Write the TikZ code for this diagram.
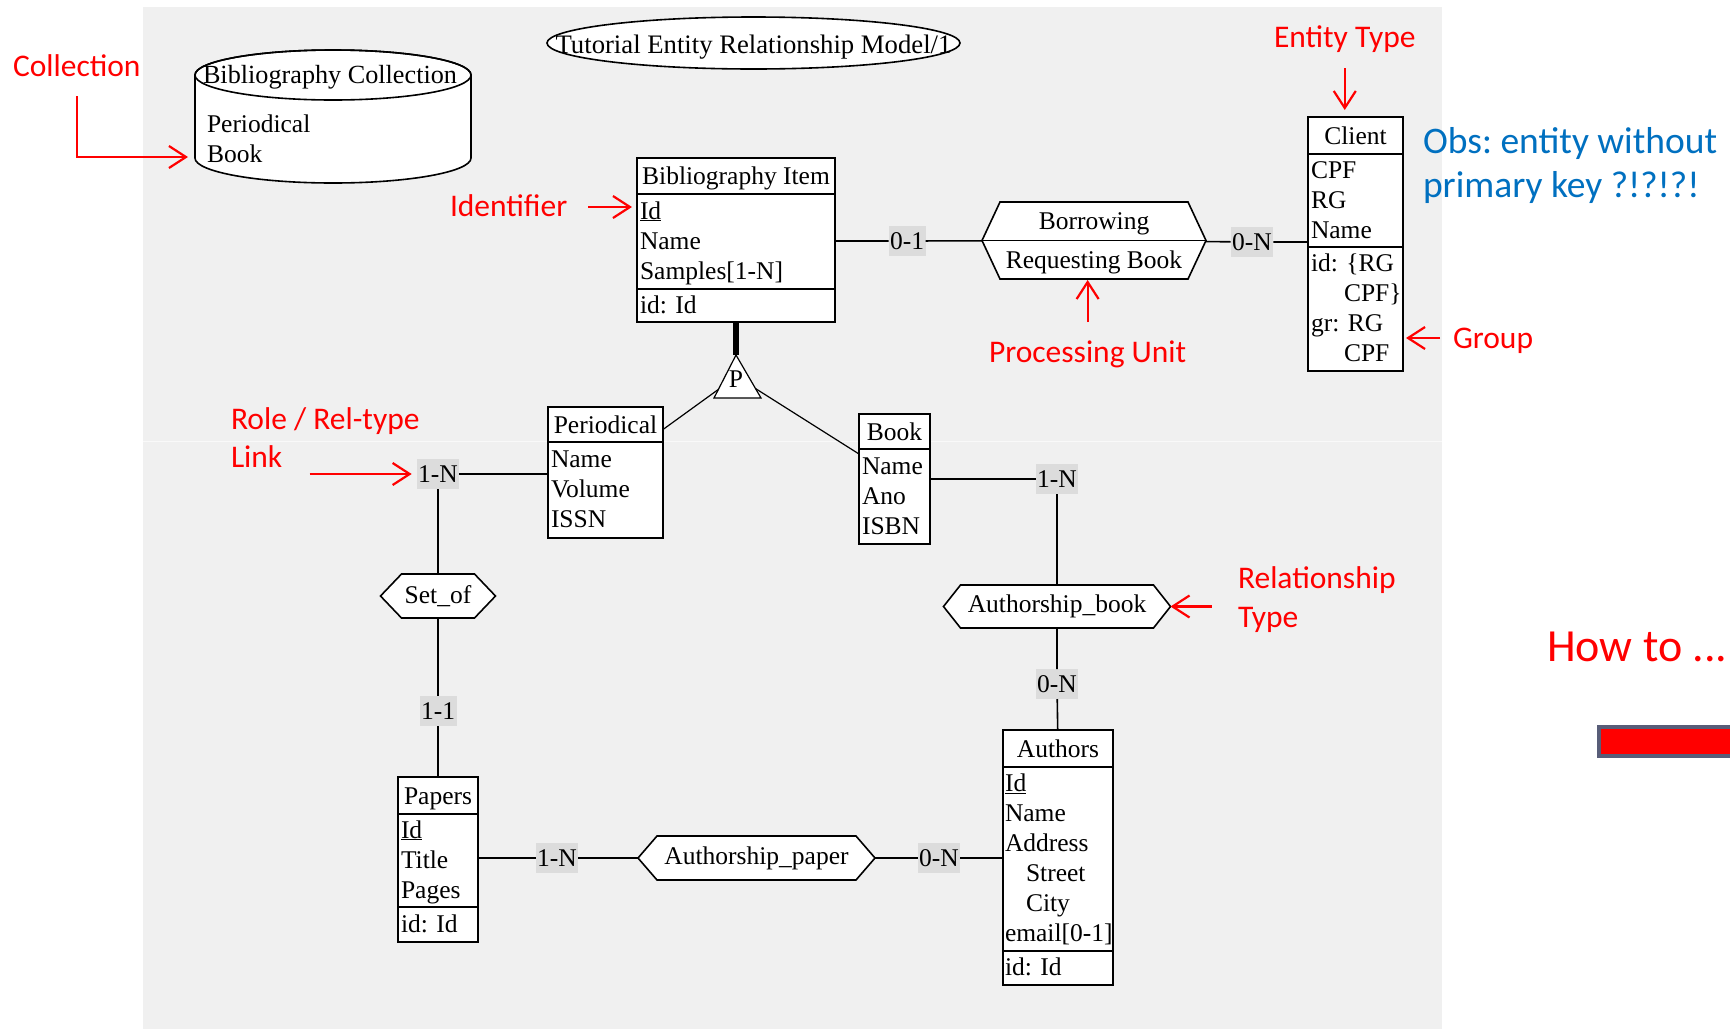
\documentclass[tikz,border=0pt]{standalone}
\usepackage{fontspec}
\setmainfont{Liberation Serif}
\newfontfamily\notefont{Carlito}
\usetikzlibrary{arrows.meta,calc}
\definecolor{bggray}{RGB}{240,240,240}
\definecolor{lblgray}{RGB}{220,220,220}
\definecolor{noteblue}{RGB}{0,112,192}
\definecolor{notered}{RGB}{255,0,0}
\definecolor{barframe}{RGB}{88,93,120}
\newcommand\erfont{\fontsize{25.5}{30}\selectfont}
% invisible line strut: 22.5pt above and 7.5pt below the baseline
\newcommand\linestrut{\rule[-7.5pt]{0pt}{30pt}}
\pgfdeclarelayer{back}
\pgfdeclarelayer{shapes}
\pgfsetlayers{back,shapes,main}
% hexagonal outline around a (rectangular, undrawn) relationship node
\newcommand\hexframe[2]{%
  \begin{pgfonlayer}{shapes}
    \draw[line width=1.6pt, fill=white, line join=miter]
      ($(#1.north west)+(#2,0)$) -- ($(#1.north east)+(-#2,0)$) -- (#1.east)
      -- ($(#1.south east)+(-#2,0)$) -- ($(#1.south west)+(#2,0)$) -- (#1.west) -- cycle;
  \end{pgfonlayer}}
\begin{document}
\frenchspacing
\begin{tikzpicture}[x=1pt, y=-1pt,
  every node/.style={inner sep=0pt, outer sep=0pt, font=\erfont},
  link/.style={line width=1.6pt},
  thinlink/.style={line width=1.2pt},
  comp/.style={draw, fill=white, line width=1.6pt, anchor=north west, inner ysep=0pt},
  ehead/.style={comp, align=center, text height=17pt, text depth=0pt},
  eattr/.style={comp, inner xsep=3pt, align=left,
    execute at begin node=\linestrut, execute at end node=\linestrut},
  card/.style={fill=lblgray, inner xsep=1.5pt, minimum height=30pt},
  note/.style={text=notered, font=\notefont\fontsize{31.5}{38}\selectfont},
  obs/.style={text=noteblue, font=\notefont\fontsize{37.5}{44}\selectfont},
  howto/.style={text=notered, font=\notefont\fontsize{46}{55}\selectfont},
  redarrow/.style={draw=notered, line width=2.2pt, -{Straight Barb[length=17pt, width=22pt]}}]

\useasboundingbox (0,0) rectangle (1730,1029);

\begin{pgfonlayer}{back}
  \fill[white] (0,0) rectangle (1730,1029);
  \fill[bggray] (143,7) rectangle (1442,1029);
  \draw[white, line width=1pt, opacity=.6] (143,441) -- (1442,441);
\end{pgfonlayer}

% schema title
\draw[link, fill=white] (753.5,43) ellipse[x radius=206.5, y radius=26];
\node[anchor=base, font=\fontsize{26.7}{30}\selectfont] (title) at (753.5,53) {Tutorial Entity Relationship Model/1};

% collection (cylinder)
\filldraw[link, fill=white] (195,75) -- (195,158)
  arc[start angle=180, end angle=0, x radius=138, y radius=25] -- (471,75)
  arc[start angle=0, end angle=-180, x radius=138, y radius=25] -- cycle;
\draw[link] (333,75) ellipse[x radius=138, y radius=25];
\node[anchor=base, font=\fontsize{26.2}{30}\selectfont] (collT) at (330,83) {Bibliography Collection};
\node[anchor=base west] (collP) at (207,132) {Periodical};
\node[anchor=base west] (collB) at (207,162) {Book};
\coordinate (cylW) at (195,157);

% entity types
\node[ehead, minimum width=198pt, minimum height=36pt] (bibH) at (637,158) {Bibliography Item};
\node[eattr, text width=192pt, minimum height=95pt] (bibA) at (bibH.south west) {\underline{Id}\\Name\\Samples[1-N]};
\node[eattr, text width=192pt, minimum height=33pt] (bibI) at (bibA.south west) {id: Id};

\node[ehead, minimum width=115pt, minimum height=35pt] (perH) at (548,407) {Periodical};
\node[eattr, text width=109pt, minimum height=96pt] (perA) at (perH.south west) {Name\\Volume\\ISSN};

\node[ehead, minimum width=71pt, minimum height=35pt] (bookH) at (859,414) {Book};
\node[eattr, text width=65pt, minimum height=95pt] (bookA) at (bookH.south west) {Name\\Ano\\ISBN};

\node[ehead, minimum width=95pt, minimum height=37pt] (clientH) at (1308,117) {Client};
\node[eattr, text width=89pt, minimum height=93pt] (clientA) at (clientH.south west) {CPF\\RG\\Name};
\node[eattr, text width=89pt, minimum height=124pt] (clientI) at (clientA.south west) {id: \{RG\\\hspace*{33pt}CPF\}\\gr: RG\\\hspace*{33pt}CPF};

\node[ehead, minimum width=80pt, minimum height=37pt] (papH) at (398,777) {Papers};
\node[eattr, text width=74pt, minimum height=93pt] (papA) at (papH.south west) {\underline{Id}\\Title\\Pages};
\node[eattr, text width=74pt, minimum height=35pt] (papI) at (papA.south west) {id: Id};

\node[ehead, minimum width=110pt, minimum height=37pt] (autH) at (1003,730) {Authors};
\node[eattr, inner xsep=2pt, text width=106pt, minimum height=184pt] (autA) at (autH.south west) {\underline{Id}\\Name\\Address\\\hspace*{21pt}Street\\\hspace*{21pt}City\\\mbox{email[0-1]}};
\node[eattr, inner xsep=2pt, text width=106pt, minimum height=34pt] (autI) at (autA.south west) {id: Id};

% relationship types
\node[minimum width=224pt, minimum height=77pt, align=center, font=\fontsize{25.5}{39}\selectfont] (borrow) at (1094,240.5) {\rule{0pt}{23.4pt}Borrowing\\Requesting Book};
\hexframe{borrow}{18}
\begin{pgfonlayer}{shapes}
  \draw[link] (borrow.west) -- (borrow.east);
\end{pgfonlayer}
\node[minimum width=115pt, minimum height=44pt] (setof) at (438,596) {Set\_of};
\hexframe{setof}{21}
\node[minimum width=227pt, minimum height=43pt] (abook) at (1057,606.5) {Authorship\_book};
\hexframe{abook}{17}
\node[minimum width=237pt, minimum height=44pt] (apaper) at (756.5,858) {\raisebox{2pt}{Authorship\_paper}};
\hexframe{apaper}{19}

% partition (is-a) triangle
\coordinate (isaTop) at (736,355);
\coordinate (isaBL) at (714,398);
\coordinate (isaBR) at (761,398);
\draw[thinlink, fill=white] (isaTop) -- (isaBL) -- (isaBR) -- cycle;
\node (isaP) at (736,379) {P};
\coordinate (isaL) at ($(isaTop)!0.8!(isaBL)$);
\coordinate (isaR) at ($(isaTop)!0.78!(isaBR)$);

% cardinalities
\node[card] (lbl01) at (907,241) {0-1};
\node[card] (lbl0Nc) at (1252,242) {0-N};
\node[card] (lbl1Np) at (438,474) {1-N};
\node[card] (lbl11) at (438,711) {1-1};
\node[card] (lbl1Npa) at (557,858) {1-N};
\node[card] (lbl0Npa) at (939,858) {0-N};
\node[card] (lbl1Nb) at (1057,479) {1-N};
\node[card] (lbl0Nb) at (1057,684) {0-N};

% role links
\draw[link] (bibA.east |- lbl01) -- (lbl01) -- (borrow);
\draw[link] (borrow) -- (lbl0Nc) -- (lbl0Nc -| clientA.west);
\draw[line width=6pt] (bibI.south) -- (isaTop);
\draw[thinlink] (isaL) -- ($(perH.east)+(0,5)$);
\draw[thinlink] (isaR) -- ($(bookA.north west)+(0,5)$);
\draw[link] (lbl1Np) -- (lbl1Np -| perA.west);
\draw[link] (lbl1Np) -- (setof);
\draw[link] (setof) -- (lbl11) -- (papH);
\draw[link] (papA.east |- lbl1Npa) -- (lbl1Npa) -- (apaper);
\draw[link] (apaper) -- (lbl0Npa) -- (lbl0Npa -| autA.west);
\draw[link] (bookA.east |- lbl1Nb) -- (lbl1Nb) -- (abook);
\draw[link] (abook) -- (lbl0Nb) -- (autH);

% annotations
\node[note, anchor=base west] (collnote) at (13,76) {Collection};
\node[note, anchor=base west] (idnote) at (450,216) {Identifier};
\node[note, anchor=base west] (etnote) at (1274,47) {Entity Type};
\node[note, anchor=base west] (grpnote) at (1453,348) {Group};
\node[note, anchor=base west] (punote) at (989,362) {Processing Unit};
\node[note, anchor=base west] (rolenote) at (231,429) {Role / Rel-type};
\node[note, anchor=base west] (linknote) at (231,467) {Link};
\node[note, anchor=base west] (relnote) at (1238,588) {Relationship};
\node[note, anchor=base west] (typenote) at (1238,627) {Type};
\node[obs, anchor=base west] (obsnote) at (1423,153) {Obs: entity without};
\node[obs, anchor=base west] (obsnote2) at (1423,197) {primary key ?!?!?!};
\node[howto, anchor=base west] (howto) at (1547,661) {How to ...};

\draw[redarrow, shorten >=7pt] ($(collnote.base)+(0,20)$) |- (cylW);
\draw[redarrow] ($(bibA.north west)+(-49,13)$) -- ($(bibA.north west)+(-5,13)$);
\draw[redarrow] ($(etnote.base)+(0,21)$) -- ($(etnote.base |- clientH.north)+(0,-7)$);
\draw[redarrow] ($(grpnote.base west)+(-13,-10)$) -- ($(grpnote.base west -| clientI.east)+(3,-10)$);
\draw[redarrow] ($(punote.base)+(0,-40)$) -- ($(punote.base |- borrow.south)+(0,1)$);
\draw[redarrow] ($(lbl1Np.west)+(-107,0)$) -- ($(lbl1Np.west)+(-5,0)$);
\draw[redarrow] ($(abook.east)+(41,0)$) -- (abook.east);

% slide button
\fill[barframe] (1597,725) rectangle (1740,758);
\fill[notered] (1601,729) rectangle (1740,754);
\end{tikzpicture}
\end{document}
